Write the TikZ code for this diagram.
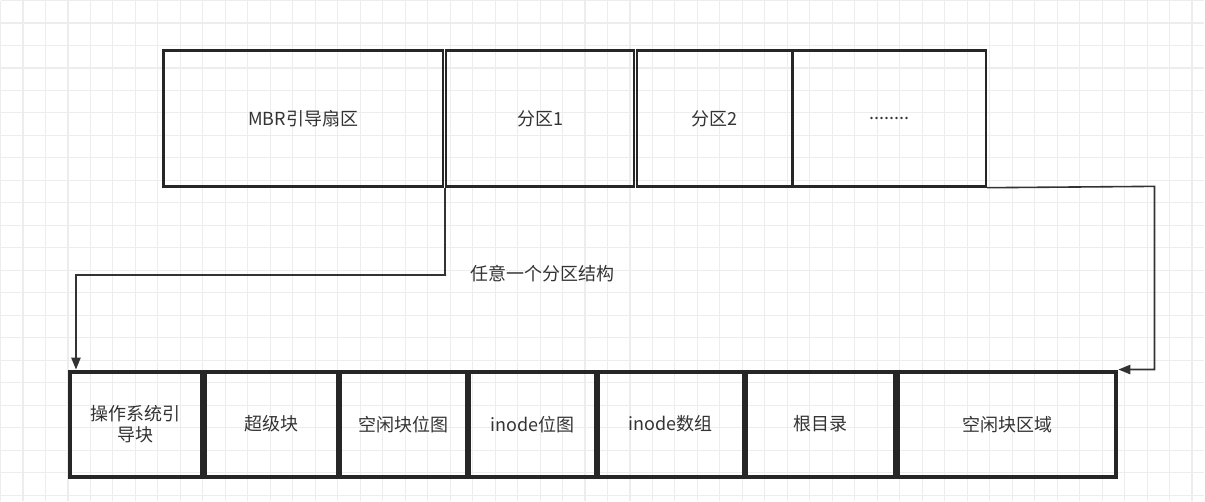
\documentclass[tikz,border=0pt]{standalone}
\usepackage{fontspec}
\setmainfont{Noto Sans CJK SC}
\usetikzlibrary{arrows.meta}
\begin{document}
\begin{tikzpicture}[
		x=0.75pt, y=-0.75pt,
		block/.style={draw=black!85, line width=2pt, minimum height=102pt, inner sep=0pt, font=\fontsize{13.5}{16}\selectfont, text=black!80, align=center},
		part/.style={draw=black!85, line width=3pt, minimum height=79pt, inner sep=0pt, font=\fontsize{13.5}{16}\selectfont, text=black!80, align=center},
		conn/.style={-{Triangle[length=9pt,width=7pt]}, draw=black!80, line width=1.2pt}
		]
		
		% Background grid
		\fill[white] (0,0) rectangle (1205,501);
		\draw[black!7, line width=0.8pt, step=22.5*0.75pt] (0,0) grid (1205,501);
		
		% Disk layout
		\node[block, minimum width=210pt] (mbr) at (303,118) {MBR引导扇区};
		\node[block, minimum width=141pt] (p1) at (540,118) {分区1};
		\node[block, minimum width=117pt] (p2) at (715,118) {分区2};
		\node[block, minimum width=145pt] (more) at (889.5,118) {........};
		
		% Partition layout
		\node[part, minimum width=99pt] (boot) at (135.5,424) {操作系统引\\导块};
		\node[part, minimum width=100pt] (super) at (271,424) {超级块};
		\node[part, minimum width=95pt] (bitmap) at (403.5,424) {空闲块位图};
		\node[part, minimum width=95pt] (ibitmap) at (532.5,424) {inode位图};
		\node[part, minimum width=109pt] (inodes) at (671,424) {inode数组};
		\node[part, minimum width=112pt] (root) at (821,424) {根目录};
		\node[part, minimum width=164pt] (free) at (1007.5,424) {空闲块区域};
		
		% Arrows
		\coordinate (lturn) at (446,275);
		\coordinate (rturn) at (1155,186);
		\draw[conn] (p1.south west) |- (lturn) -| ([xshift=6pt]boot.north west);
		\draw[conn] (more.south east) -- (rturn) |- (free.north east);
		\node[font=\fontsize{13.5}{16}\selectfont, text=black!80, anchor=west] (label) at (466,273) {任意一个分区结构};
		
\end{tikzpicture}
\end{document}
